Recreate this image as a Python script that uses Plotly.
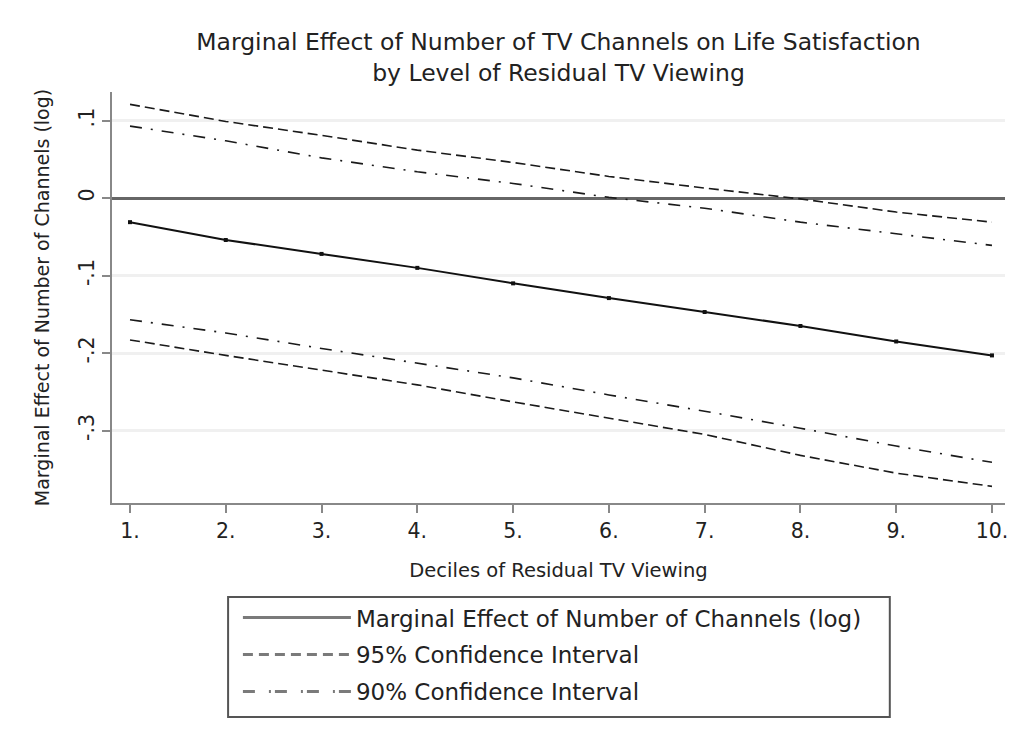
import plotly.graph_objects as go

deciles = [1, 2, 3, 4, 5, 6, 7, 8, 9, 10]
tick_labels = ["1.", "2.", "3.", "4.", "5.", "6.", "7.", "8.", "9.", "10."]
marginal = [-0.031, -0.054, -0.072, -0.090, -0.110, -0.129, -0.147, -0.165, -0.185, -0.203]
ci95_upper = [0.121, 0.099, 0.081, 0.062, 0.046, 0.028, 0.013, -0.001, -0.018, -0.031]
ci95_lower = [-0.183, -0.203, -0.222, -0.241, -0.263, -0.284, -0.305, -0.332, -0.355, -0.372]
ci90_upper = [0.093, 0.074, 0.052, 0.034, 0.019, 0.001, -0.013, -0.031, -0.046, -0.061]
ci90_lower = [-0.157, -0.174, -0.194, -0.213, -0.232, -0.254, -0.275, -0.297, -0.320, -0.341]
y_ticks = [0.1, 0.0, -0.1, -0.2, -0.3]
y_tick_labels = [".1", "0", "-.1", "-.2", "-.3"]
legend_names = ["Marginal Effect of Number of Channels (log)",
                "95% Confidence Interval",
                "90% Confidence Interval"]

FONT = "DejaVu Sans, Verdana, sans-serif"

dash95 = "10px,5px"
dash90 = "12px,9px,2px,9px"
leg_dash = ["solid", "10px,6px", "12px,14px,2px,4px"]

fig = go.Figure()
# plotted series (legend entries drawn by the legend-only traces below)
fig.add_trace(go.Scatter(x=deciles, y=marginal, mode="lines+markers",
                         line=dict(color="#111111", width=2),
                         marker=dict(symbol="square", size=4, color="#111111"),
                         name=legend_names[0], showlegend=False))
for ys in (ci95_upper, ci95_lower):
    fig.add_trace(go.Scatter(x=deciles, y=ys, mode="lines",
                             line=dict(color="#1a1a1a", width=1.6, dash=dash95),
                             name=legend_names[1], showlegend=False))
for ys in (ci90_upper, ci90_lower):
    fig.add_trace(go.Scatter(x=deciles, y=ys, mode="lines",
                             line=dict(color="#1a1a1a", width=1.6, dash=dash90),
                             name=legend_names[2], showlegend=False))
# legend entries
for i, nm in enumerate(legend_names):
    fig.add_trace(go.Scatter(x=[None], y=[None], mode="lines", name=nm,
                             line=dict(color="#7a7a7a", width=3, dash=leg_dash[i]),
                             legendgroup=f"g{i}", showlegend=True, hoverinfo="skip"))

fig.update_layout(
    width=1025, height=744,
    paper_bgcolor="white", plot_bgcolor="white",
    margin=dict(l=104, r=28, t=84, b=249, autoexpand=False),
    font=dict(family=FONT, color="#222222"),
    title=dict(text="Marginal Effect of Number of TV Channels on Life Satisfaction<br>by Level of Residual TV Viewing",
               x=0.5, xref="paper", xanchor="center", y=0.943, yanchor="top",
               font=dict(family=FONT, size=23.5, color="#222222")),
    showlegend=True,
    legend=dict(x=0.141, y=-0.2266, xanchor="left", yanchor="top",
                bgcolor="rgba(0,0,0,0)", borderwidth=0,
                font=dict(family=FONT, size=23, color="#222222"),
                itemwidth=108, tracegroupgap=4, traceorder="grouped"),
    shapes=[
        dict(type="rect", xref="paper", yref="paper", x0=0.130, x1=0.871, y0=-0.5207, y1=-0.2287,
             line=dict(color="#555555", width=2), fillcolor="rgba(0,0,0,0)", layer="below"),
    ],
)

fig.update_xaxes(range=[0.812, 10.136], tickmode="array", tickvals=deciles, ticktext=tick_labels,
                 automargin=False,
                 showgrid=False, zeroline=False, showline=True, linecolor="#888888", linewidth=2,
                 ticks="outside", ticklen=8, tickwidth=2, tickcolor="#888888",
                 tickfont=dict(family=FONT, size=20.5, color="#222222"),
                 title=dict(text="Deciles of Residual TV Viewing", standoff=22,
                            font=dict(family=FONT, size=19.5, color="#222222")))
fig.update_yaxes(range=[-0.3935, 0.137], tickmode="array", tickvals=y_ticks, ticktext=y_tick_labels,
                 automargin=False,
                 tickangle=-90, showgrid=True, gridcolor="#f0f0f0", gridwidth=3,
                 zeroline=True, zerolinecolor="#666666", zerolinewidth=2.5,
                 showline=True, linecolor="#888888", linewidth=2,
                 ticks="outside", ticklen=8, tickwidth=2, tickcolor="#888888",
                 tickfont=dict(family=FONT, size=20.5, color="#222222"),
                 title=dict(text="Marginal Effect of Number of Channels (log)", standoff=20,
                            font=dict(family=FONT, size=19, color="#222222")))

fig.write_html("out.html")
